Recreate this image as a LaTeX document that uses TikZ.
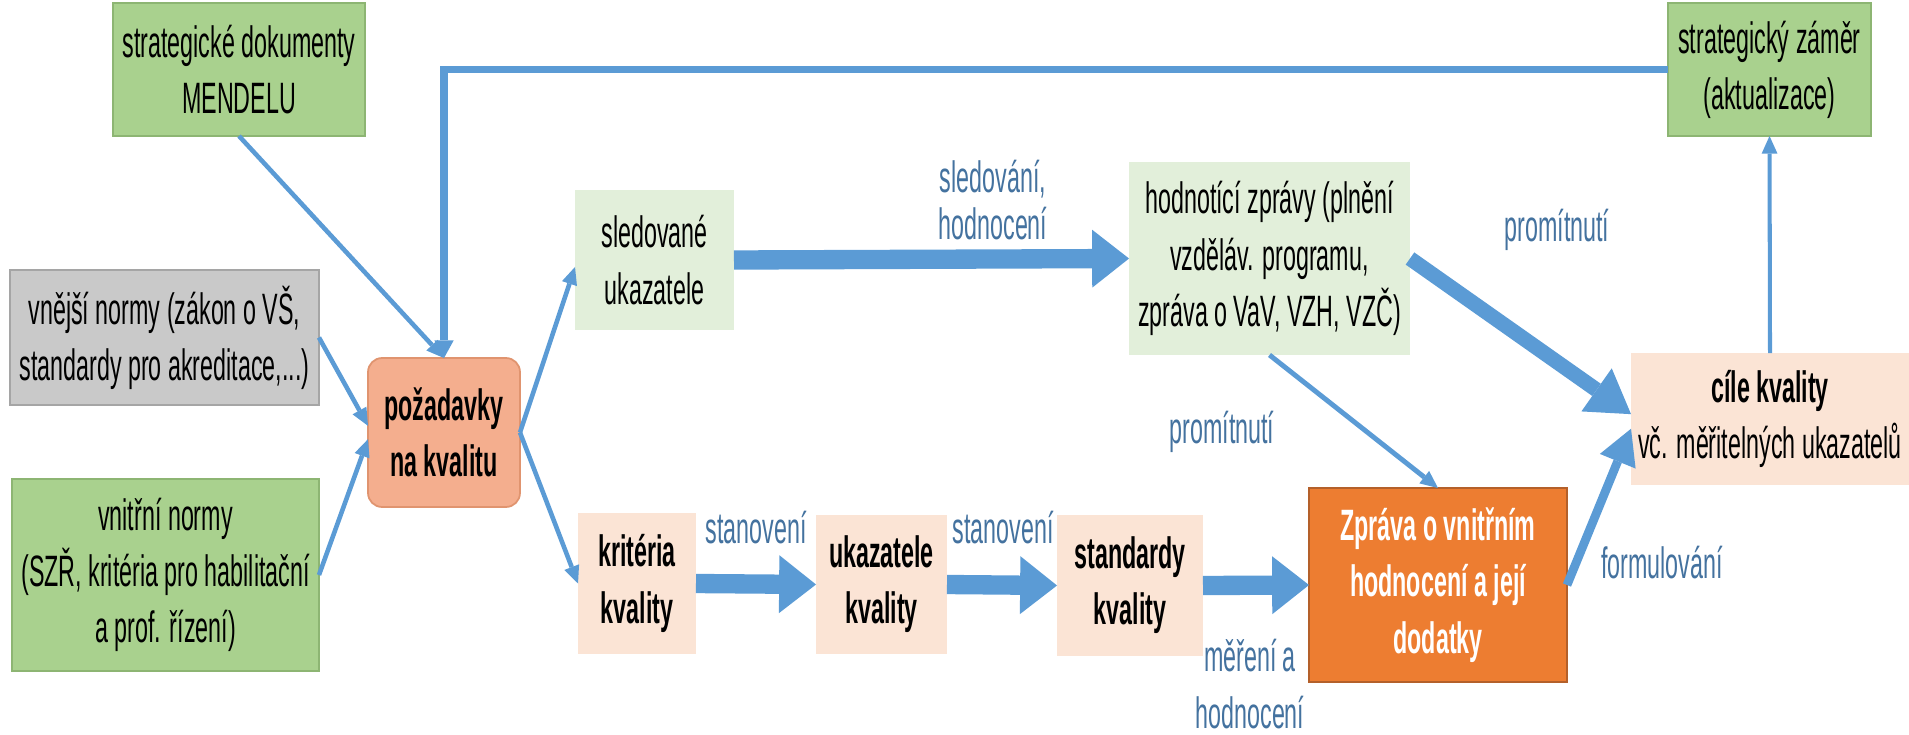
\documentclass[tikz,border=0pt]{standalone}
\usepackage{fontspec}
\setmainfont{Liberation Sans}[FakeStretch=0.53]
\usetikzlibrary{arrows.meta}

\definecolor{arrowblue}{HTML}{5B9BD5}
\definecolor{labelblue}{HTML}{44729F}
\definecolor{docgreen}{HTML}{A9D18E}
\definecolor{docgreenline}{HTML}{8DB573}
\definecolor{palegreen}{HTML}{E2EFDA}
\definecolor{normgray}{HTML}{C9C9C9}
\definecolor{normgrayline}{HTML}{A5A5A5}
\definecolor{salmon}{HTML}{F4AE8E}
\definecolor{salmonline}{HTML}{E0946F}
\definecolor{peach}{HTML}{FBE4D5}
\definecolor{reportorange}{HTML}{ED7D31}
\definecolor{reportline}{HTML}{B4602A}

\begin{document}
\begin{tikzpicture}[x=0.02cm,y=-0.02cm,
  box/.style={inner sep=0pt,outer sep=0pt,align=center,font=\fontsize{25}{32}\selectfont},
  docbox/.style={box,fill=docgreen,draw=docgreenline,line width=1pt},
  softbox/.style={box,fill=palegreen},
  peachbox/.style={box,fill=peach,font=\fontsize{25}{32}\selectfont\bfseries},
  link/.style={draw=arrowblue,line width=2.6pt,-{Triangle[length=10pt,width=9pt,line width=0pt]}},
  feedback/.style={draw=arrowblue,line width=4pt,-{Triangle[length=10pt,width=11pt,line width=0pt]}},
  bigarrow/.style={draw=arrowblue,line width=11pt,-{Triangle[length=21pt,width=33pt,line width=0pt]}},
  lbl/.style={text=labelblue,align=center,font=\fontsize{25}{30}\selectfont}]

\useasboundingbox (0,0) rectangle (1909,734);

% inputs on the left
\node[docbox,minimum width=5.04cm,minimum height=2.66cm] (strat) at (239,69.5) {strategické dokumenty\\MENDELU};
\node[box,fill=normgray,draw=normgrayline,line width=1pt,minimum width=6.18cm,minimum height=2.70cm] (vnejsi) at (164.5,337.5) {vnější normy (zákon o VŠ,\\standardy pro akreditace,...)};
\node[docbox,minimum width=6.14cm,minimum height=3.84cm] (vnitrni) at (165.5,575) {vnitřní normy\\(SZŘ, kritéria pro habilitační\\a prof. řízení)};

\node[box,fill=salmon,draw=salmonline,line width=1pt,rounded corners=8pt,minimum width=3.04cm,minimum height=2.98cm,font=\fontsize{25}{32}\selectfont\bfseries] (poz) at (444,432.5) {požadavky\\na kvalitu};

% upper branch
\node[softbox,minimum width=3.18cm,minimum height=2.80cm] (sled) at (654.5,260) {sledované\\ukazatele};
\node[softbox,minimum width=5.62cm,minimum height=3.86cm] (hodn) at (1269.5,258.5) {hodnotící zprávy (plnění\\vzděláv. programu,\\zpráva o VaV, VZH, VZČ)};

% lower branch
\node[peachbox,minimum width=2.36cm,minimum height=2.82cm] (krit) at (637,583.5) {kritéria\\kvality};
\node[peachbox,minimum width=2.62cm,minimum height=2.78cm] (ukaz) at (881.5,584.5) {ukazatele\\kvality};
\node[peachbox,minimum width=2.92cm,minimum height=2.82cm] (stand) at (1130,585.5) {standardy\\kvality};
\node[box,fill=reportorange,draw=reportline,line width=1.5pt,text=white,minimum width=5.16cm,minimum height=3.88cm,font=\fontsize{25}{32}\selectfont\bfseries] (zprava) at (1438,585) {Zpráva o vnitřním\\hodnocení a její\\dodatky};

% outputs on the right
\node[box,fill=peach,minimum width=5.56cm,minimum height=2.64cm] (cile) at (1770,419) {\textbf{cíle kvality}\\vč. měřitelných ukazatelů};
\node[docbox,minimum width=4.06cm,minimum height=2.66cm] (zamer) at (1769.5,69.5) {strategický záměr\\(aktualizace)};

% connectors
\draw[feedback] (zamer.west) -| (poz.north);
\draw[link] (strat.south) -- (poz.north);
\draw[link] (vnejsi.east) -- (poz.175);
\draw[link] (vnitrni.east) -- (poz.185);
\draw[link] (poz.east) -- (sled.185);
\draw[link] (poz.east) -- (krit.west);

\draw[bigarrow] (sled.east) -- (hodn.west);
\draw[bigarrow] (krit.east) -- (ukaz.west);
\draw[bigarrow] (ukaz.east) -- (stand.west);
\draw[bigarrow] (stand.east) -- (zprava.west);

\draw[link,line width=2.8pt] (hodn.south) -- (zprava.north);
\draw[draw=arrowblue,line width=8.5pt,-{Triangle[length=24pt,width=30pt,line width=0pt]}] (hodn.east) -- (cile.178);
\draw[draw=arrowblue,line width=5pt,-{Triangle[length=20pt,width=22pt,line width=0pt]}] (zprava.east) -- (cile.184);
\draw[link,line width=2.3pt] (cile.north) -- (zamer.south);

% connector labels
\node[lbl,font=\fontsize{25}{27}\selectfont] (sledlbl) at (993,200) {sledování,\\hodnocení};
\node[lbl] (promtop) at (1557,230) {promítnutí};
\node[lbl] (promlow) at (1222,432) {promítnutí};
\node[lbl] (stan1) at (756,528) {stanovení};
\node[lbl] (stan2) at (1003,528) {stanovení};
\node[lbl,font=\fontsize{25}{32}\selectfont] (merlbl) at (1250,684) {měření a\\hodnocení};
\node[lbl] (formlbl) at (1662,563) {formulování};

\end{tikzpicture}
\end{document}
